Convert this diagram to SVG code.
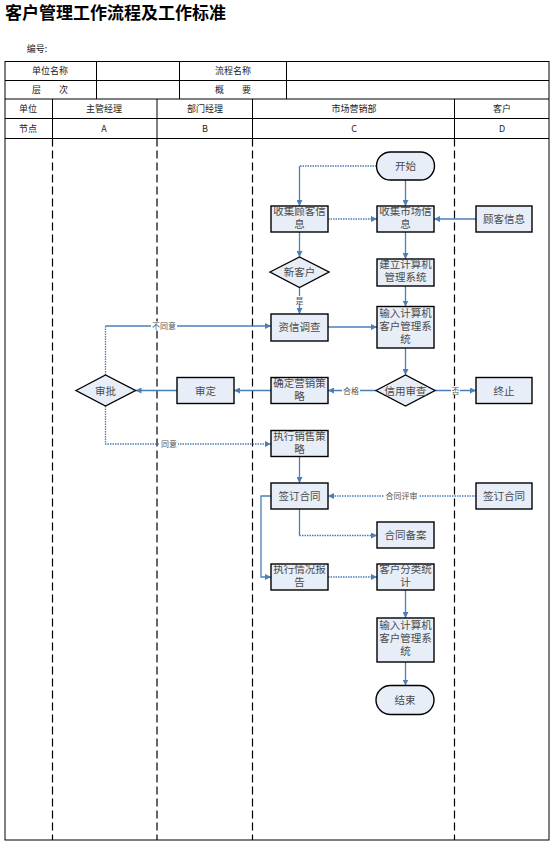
<svg xmlns="http://www.w3.org/2000/svg" width="553" height="843" viewBox="0 0 553 843">
<style>
.t{font-family:"Noto Sans CJK SC","Liberation Sans",sans-serif;}
.title{font-size:17px;font-weight:bold;fill:#000;}
.hd{font-size:9px;fill:#222;text-anchor:middle;}
.tb{stroke:#000;stroke-width:1;fill:none;}
.lane{stroke:#000;stroke-width:1.2;stroke-dasharray:8,4;fill:none;}
.box{fill:#e8eef8;stroke:#000;stroke-width:1.4;}
.nt{font-size:10.5px;fill:#4a4a4a;text-anchor:middle;}
.c{stroke:#4a7ebb;stroke-width:1.3;fill:none;}
.d{stroke:#4a7ebb;stroke-width:1.3;fill:none;stroke-dasharray:1.5,1;}
.lb{font-size:8px;fill:#555;text-anchor:middle;}
.lbg{fill:#fff;}
</style>
<defs>
<marker id="ah" viewBox="0 0 10 10" refX="10" refY="5" markerWidth="6" markerHeight="6" markerUnits="userSpaceOnUse" orient="auto">
<path d="M0,0 L10,5 L0,10 z" fill="#4a7ebb"/>
</marker>
</defs>
<rect x="0" y="0" width="553" height="843" fill="#fff"/>
<text class="t title" x="5" y="19">客户管理工作流程及工作标准</text>
<text class="t hd" x="37" y="52">编号:</text>

<g id="table">
<rect class="tb" x="5" y="61.5" width="544" height="778.5"/>
<line class="tb" x1="5" y1="80.5" x2="549" y2="80.5"/>
<line class="tb" x1="5" y1="99" x2="549" y2="99"/>
<line class="tb" x1="5" y1="118.5" x2="549" y2="118.5"/>
<line class="tb" x1="5" y1="138.5" x2="549" y2="138.5"/>
<line class="tb" x1="96.5" y1="61.5" x2="96.5" y2="99"/>
<line class="tb" x1="179.5" y1="61.5" x2="179.5" y2="99"/>
<line class="tb" x1="286.5" y1="61.5" x2="286.5" y2="99"/>
<line class="tb" x1="52.5" y1="99" x2="52.5" y2="138.5"/>
<line class="tb" x1="157" y1="99" x2="157" y2="138.5"/>
<line class="tb" x1="252.5" y1="99" x2="252.5" y2="138.5"/>
<line class="tb" x1="454.5" y1="99" x2="454.5" y2="138.5"/>
<line class="lane" x1="52.5" y1="138.5" x2="52.5" y2="840"/>
<line class="lane" x1="157" y1="138.5" x2="157" y2="840"/>
<line class="lane" x1="252.5" y1="138.5" x2="252.5" y2="840"/>
<line class="lane" x1="454.5" y1="138.5" x2="454.5" y2="840"/>
<text class="t hd" x="50" y="74">单位名称</text>
<text class="t hd" x="233" y="74">流程名称</text>
<text class="t hd" x="50" y="93">层　　次</text>
<text class="t hd" x="233" y="93">概　　要</text>
<text class="t hd" x="28" y="112">单位</text>
<text class="t hd" x="104" y="112">主管经理</text>
<text class="t hd" x="205" y="112">部门经理</text>
<text class="t hd" x="354" y="112">市场营销部</text>
<text class="t hd" x="502" y="112">客户</text>
<text class="t hd" x="28" y="132">节点</text>
<text class="t hd" x="104" y="132">A</text>
<text class="t hd" x="205" y="132">B</text>
<text class="t hd" x="354" y="132">C</text>
<text class="t hd" x="502" y="132">D</text>
</g>

<g id="connectors">
<path class="d" d="M376.5,166 H299.5"/>
<path class="c" d="M299.5,166 V206" marker-end="url(#ah)"/>
<path class="c" d="M405.5,180 V206" marker-end="url(#ah)"/>
<path class="d" d="M328,219 H377" marker-end="url(#ah)"/>
<path class="c" d="M476,219 H434" marker-end="url(#ah)"/>
<path class="c" d="M299.5,232 V257" marker-end="url(#ah)"/>
<path class="c" d="M299.5,287.5 V314" marker-end="url(#ah)"/>
<rect class="lbg" x="295" y="296" width="9" height="9"/>
<text class="t lb" x="299.5" y="303.5">是</text>
<path class="c" d="M328,327 H377" marker-end="url(#ah)"/>
<path class="c" d="M405.5,232 V259" marker-end="url(#ah)"/>
<path class="c" d="M405.5,286 V306.5" marker-end="url(#ah)"/>
<path class="c" d="M405.5,348 V375" marker-end="url(#ah)"/>
<path class="c" d="M376,390.5 H328" marker-end="url(#ah)"/>
<rect class="lbg" x="342" y="386" width="18" height="9"/>
<text class="t lb" x="351" y="393.5">合格</text>
<path class="c" d="M435,390.5 H476" marker-end="url(#ah)"/>
<rect class="lbg" x="451" y="386" width="9" height="9"/>
<text class="t lb" x="455.5" y="393.5">否</text>
<path class="c" d="M271,390.5 H234" marker-end="url(#ah)"/>
<path class="c" d="M177,390.5 H135.5" marker-end="url(#ah)"/>
<path class="d" d="M105.5,375 V326"/>
<path class="c" d="M105.5,326 H271" marker-end="url(#ah)"/>
<rect class="lbg" x="151" y="321.5" width="26" height="9"/>
<text class="t lb" x="164" y="329">不同意</text>
<path class="d" d="M105.5,406 V444 H271" marker-end="url(#ah)"/>
<rect class="lbg" x="160" y="439.5" width="18" height="9"/>
<text class="t lb" x="169" y="447">同意</text>
<path class="c" d="M299.5,456.5 V483" marker-end="url(#ah)"/>
<path class="d" d="M476,496 H328" marker-end="url(#ah)"/>
<rect class="lbg" x="384" y="491.5" width="35" height="9"/>
<text class="t lb" x="401.5" y="499">合同评审</text>
<path class="c" d="M299.5,509 V535.5"/>
<path class="d" d="M299.5,535.5 H377" marker-end="url(#ah)"/>
<path class="c" d="M271,496 H261 V577 H271" marker-end="url(#ah)"/>
<path class="d" d="M328,577 H377" marker-end="url(#ah)"/>
<path class="c" d="M405.5,590 V618" marker-end="url(#ah)"/>
<path class="c" d="M405.5,662 V685.5" marker-end="url(#ah)"/>
</g>

<g id="n-start"><rect class="box" x="376.5" y="152" width="58" height="28" rx="14"/><text class="t nt" x="405.5" y="169.5">开始</text></g>
<g id="n-collect-customer"><rect class="box" x="271" y="206" width="57" height="26"/><text class="t nt" x="299.5" y="214.5">收集顾客信<tspan x="299.5" dy="13">息</tspan></text></g>
<g id="n-collect-market"><rect class="box" x="377" y="206" width="57" height="26"/><text class="t nt" x="405.5" y="214.5">收集市场信<tspan x="405.5" dy="13">息</tspan></text></g>
<g id="n-customer-info"><rect class="box" x="476" y="206" width="56" height="26"/><text class="t nt" x="504" y="222.5">顾客信息</text></g>
<g id="n-new-customer"><polygon class="box" points="270,272 299.5,257 329,272 299.5,287.5"/><text class="t nt" x="299.5" y="276">新客户</text></g>
<g id="n-build-system"><rect class="box" x="377" y="259" width="57" height="27"/><text class="t nt" x="405.5" y="268">建立计算机<tspan x="405.5" dy="13">管理系统</tspan></text></g>
<g id="n-credit-investigation"><rect class="box" x="271" y="314" width="57" height="27"/><text class="t nt" x="299.5" y="331">资信调查</text></g>
<g id="n-input-1"><rect class="box" x="377" y="306.5" width="57" height="41.5"/><text class="t nt" x="405.5" y="316.5">输入计算机<tspan x="405.5" dy="13">客户管理系</tspan><tspan x="405.5" dy="13">统</tspan></text></g>
<g id="n-credit-review"><polygon class="box" points="376,390.5 405.5,375 435,390.5 405.5,406"/><text class="t nt" x="405.5" y="394.5">信用审查</text></g>
<g id="n-terminate"><rect class="box" x="476" y="377.5" width="56" height="26"/><text class="t nt" x="504" y="394.5">终止</text></g>
<g id="n-marketing-strategy"><rect class="box" x="271" y="377.5" width="57" height="26"/><text class="t nt" x="299.5" y="386.5">确定营销策<tspan x="299.5" dy="13">略</tspan></text></g>
<g id="n-review"><rect class="box" x="177" y="377.5" width="57" height="26"/><text class="t nt" x="205.5" y="394.5">审定</text></g>
<g id="n-approve"><polygon class="box" points="76,390.5 105.5,375 135.5,390.5 105.5,406"/><text class="t nt" x="105.5" y="394.5">审批</text></g>
<g id="n-execute-strategy"><rect class="box" x="271" y="430.5" width="57" height="26"/><text class="t nt" x="299.5" y="439.5">执行销售策<tspan x="299.5" dy="13">略</tspan></text></g>
<g id="n-sign-c"><rect class="box" x="271" y="483" width="57" height="26"/><text class="t nt" x="299.5" y="499.5">签订合同</text></g>
<g id="n-sign-d"><rect class="box" x="476" y="483" width="56" height="26"/><text class="t nt" x="504" y="499.5">签订合同</text></g>
<g id="n-contract-file"><rect class="box" x="377" y="522" width="57" height="26"/><text class="t nt" x="405.5" y="538.5">合同备案</text></g>
<g id="n-exec-report"><rect class="box" x="271" y="564" width="57" height="26"/><text class="t nt" x="299.5" y="572.5">执行情况报<tspan x="299.5" dy="13">告</tspan></text></g>
<g id="n-classify"><rect class="box" x="377" y="564" width="57" height="26"/><text class="t nt" x="405.5" y="572.5">客户分类统<tspan x="405.5" dy="13">计</tspan></text></g>
<g id="n-input-2"><rect class="box" x="377" y="618" width="57" height="44"/><text class="t nt" x="405.5" y="629">输入计算机<tspan x="405.5" dy="13">客户管理系</tspan><tspan x="405.5" dy="13">统</tspan></text></g>
<g id="n-end"><rect class="box" x="376" y="685.5" width="58" height="29" rx="14.5"/><text class="t nt" x="405" y="703.5">结束</text></g>
</svg>
